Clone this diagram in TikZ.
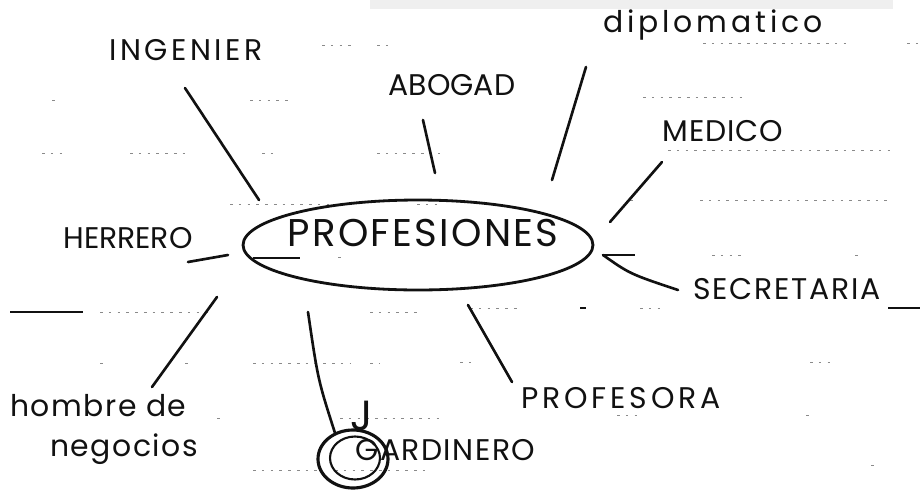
\documentclass[tikz,border=0pt]{standalone}
\usepackage{fontspec}
\usepackage{tikz}
\usetikzlibrary{shapes.geometric}
\newfontfamily\hand{Poppins}
\definecolor{ink}{HTML}{111111}
\definecolor{rulegray}{HTML}{8A8A8A}
\definecolor{scanband}{HTML}{EFEFEF}
\tikzset{lbl/.style={font=\hand\fontsize{17}{20}\selectfont\addfontfeature{LetterSpace=#1},text=ink,inner sep=0pt},
  lbl/.default=0,
  hubtitle/.style={font=\hand\fontsize{22}{24}\selectfont\addfontfeature{LetterSpace=6},text=ink,inner sep=0pt},
  branch/.style={line width=1.5pt,line cap=round,draw=ink},
  ruled/.style={line width=0.5pt,draw=rulegray,dash pattern=on 1.5pt off 3.5pt},
  heavyrule/.style={line width=1.3pt,draw=ink}}

\begin{document}
\begin{tikzpicture}[x=0.02cm,y=-0.02cm]
\useasboundingbox (0,0) rectangle (921,491);
\fill[scanband] (370,0) rectangle (893,9);
\foreach \xa/\xb/\yy in {322/353/45,377/390/45,703/847/43,907/920/43,
  250/288/100,52/58/100,643/747/97,
  42/63/153,130/187/153,262/273/153,377/440/153,668/893/150,
  230/340/204,417/443/204,630/634/200,700/887/200,
  338/342/257,712/747/255,855/860/255,
  100/213/312,370/417/312,470/520/308,640/660/308,
  100/104/363,185/189/363,253/350/363,370/380/363,460/477/362,810/833/362,
  217/221/418,340/440/418,617/643/415,806/810/415,
  253/320/470,335/425/470,871/876/465}
  \draw[ruled] (\xa,\yy) -- (\xb,\yy);
\foreach \xa/\xb/\yy in {253/300/258,603/635/255,10/83/312,580/586/308,888/920/308}
  \draw[heavyrule] (\xa,\yy) -- (\xb,\yy);
\node[draw=ink,ellipse,line width=1.6pt,minimum width=7cm,minimum height=1.8cm,inner sep=0pt] (hub) at (418,245) {};
\node[hubtitle] (hubtext) at (423,233) {PROFESIONES};
\node[lbl=12] (ing) at (186,50) {INGENIER};
\node[lbl] (abo) at (452,85) {ABOGAD};
\node[lbl=13] (dip) at (713,25) {diplomatico};
\node[lbl=3] (med) at (723,131) {MEDICO};
\node[lbl] (her) at (128,238) {HERRERO};
\node[lbl=6] (sec) at (787,289) {SECRETARIA};
\node[lbl=13] (prf) at (621,398) {PROFESORA};
\node[lbl=5,align=left,anchor=north west] (hom) at (10,394) {hombre de\\[3pt]\hspace*{0.8cm}negocios};
\node[lbl=5,anchor=west] (jar) at (355,450) {GARDINERO};
\node[lbl,font=\hand\fontsize{24}{24}\selectfont] (jmark) at (362,416) {J};
\node[draw=ink,ellipse,line width=1.8pt,minimum width=1.4cm,minimum height=1.16cm,inner sep=0pt] (gring) at (353,459) {};
\node[draw=ink,ellipse,line width=1.2pt,minimum width=1cm,minimum height=0.86cm,inner sep=0pt] (gringin) at (355,458) {};
\coordinate (ing-a) at (185,88);   \coordinate (ing-b) at (259,200);
\coordinate (abo-a) at (423,120);  \coordinate (abo-b) at (435,173);
\coordinate (dip-a) at (586,67);   \coordinate (dip-b) at (552,180);
\coordinate (med-a) at (662,162);  \coordinate (med-b) at (610,222);
\coordinate (sec-a) at (603,255);  \coordinate (sec-b) at (678,290);
\coordinate (prf-a) at (468,305);  \coordinate (prf-b) at (512,382);
\coordinate (jar-a) at (308,312);  \coordinate (jar-b) at (335,433);
\coordinate (hom-a) at (217,297);  \coordinate (hom-b) at (152,387);
\coordinate (her-a) at (188,262);  \coordinate (her-b) at (228,255);
\draw[branch] (ing-a) -- (ing-b);
\draw[branch] (abo-a) -- (abo-b);
\draw[branch] (dip-a) -- (dip-b);
\draw[branch] (med-a) -- (med-b);
\draw[branch] (sec-a) .. controls (630,274) .. (sec-b);
\draw[branch] (prf-a) -- (prf-b);
\draw[branch] (jar-a) .. controls (318,380) .. (jar-b);
\draw[branch] (hom-a) -- (hom-b);
\draw[branch] (her-a) -- (her-b);
\end{tikzpicture}
\end{document}
